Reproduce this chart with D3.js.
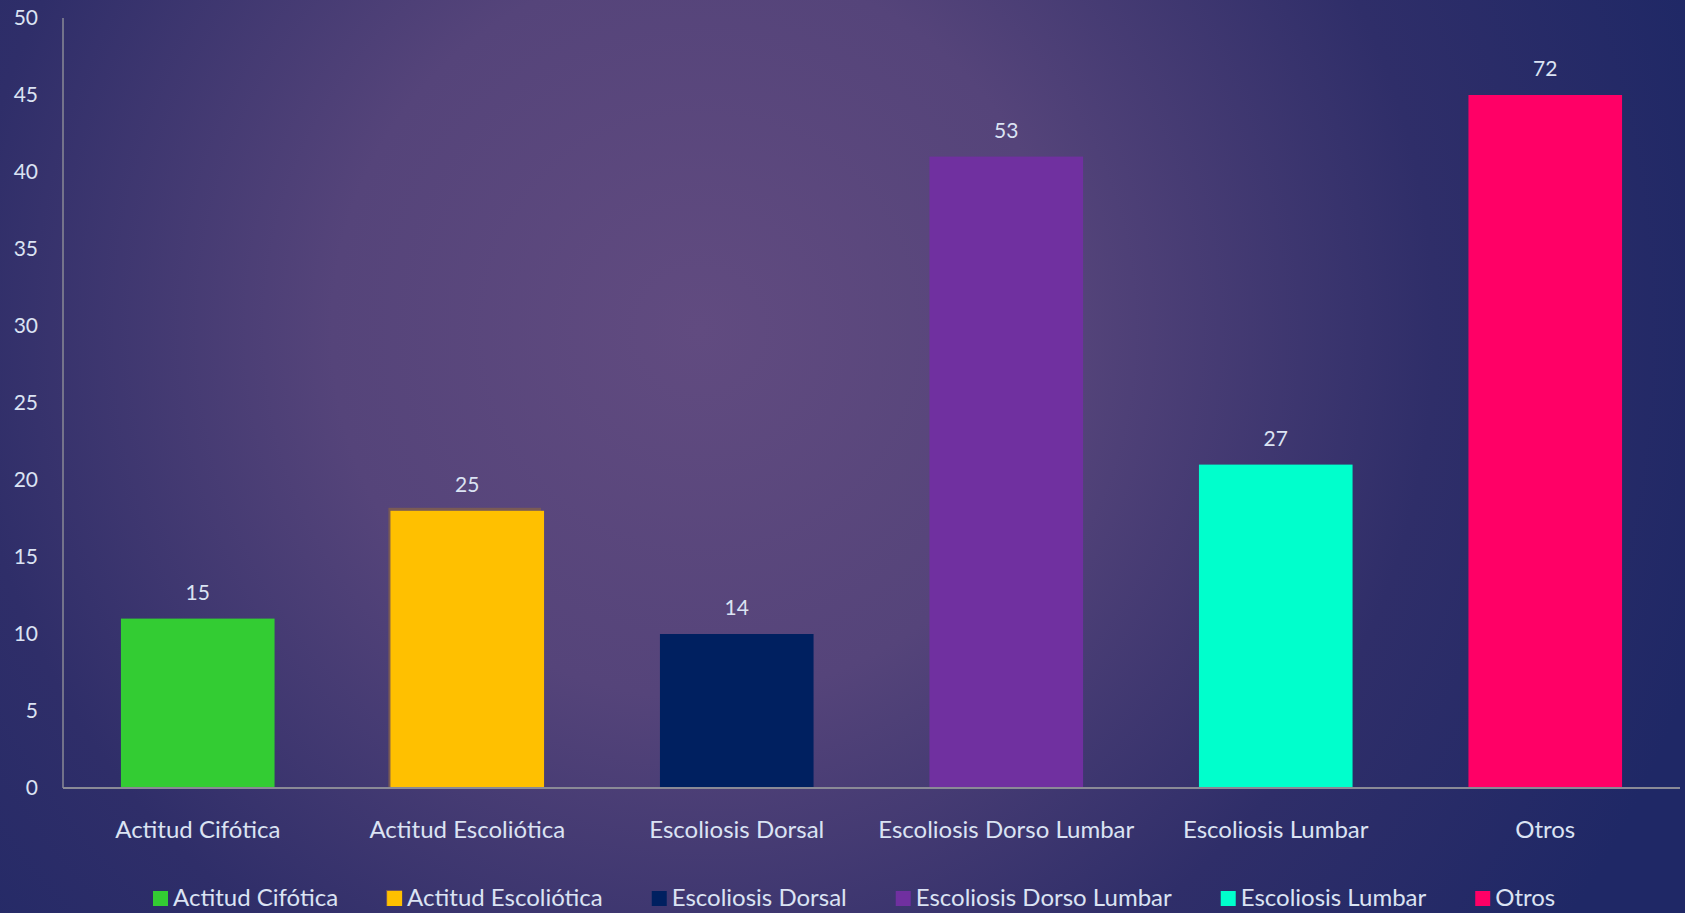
<!DOCTYPE html>
<html><head><meta charset="utf-8">
<script src="https://cdn.jsdelivr.net/npm/d3@7"></script>
<style>html,body{margin:0;padding:0;overflow:hidden;background:#2a2d68}</style>
</head><body>
<script>
const categories = ["Actitud Cifótica","Actitud Escoliótica","Escoliosis Dorsal","Escoliosis Dorso Lumbar","Escoliosis Lumbar","Otros"];
const barValues = [11, 18, 10, 41, 21, 45];
const labelValues = [15, 25, 14, 53, 27, 72];
const colors = ["#33cc33","#ffc000","#002060","#7030a0","#00ffcc","#ff0066"];
const yTicks = [0,5,10,15,20,25,30,35,40,45,50];

const W = 1685, H = 913;
const FONT = "Lato, 'Open Sans', sans-serif";
const TXT = "#dbe3f3";
const m = {left: 63, right: 5, top: 18, bottom: 125};

const svg = d3.select("body").append("svg").attr("width", W).attr("height", H);
const defs = svg.append("defs");
const rg = defs.append("radialGradient").attr("id","bg")
  .attr("gradientUnits","userSpaceOnUse").attr("cx", 700).attr("cy", 330).attr("r", 1050);
rg.append("stop").attr("offset","0%").attr("stop-color","#614b80");
rg.append("stop").attr("offset","35%").attr("stop-color","#55447a");
rg.append("stop").attr("offset","70%").attr("stop-color","#2f2e69");
rg.append("stop").attr("offset","100%").attr("stop-color","#1f2866");
svg.append("rect").attr("width", W).attr("height", H).attr("fill","url(#bg)");

const x = d3.scaleBand().domain(categories).range([m.left, W - m.right]).paddingInner(0.43).paddingOuter(0.215);
const y = d3.scaleLinear().domain([0, 50]).range([H - m.bottom, m.top]);

// y tick labels
const ya = svg.append("g").attr("transform", `translate(${m.left},0)`)
  .call(d3.axisLeft(y).tickValues(yTicks).tickSize(0).tickPadding(25));
ya.select(".domain").remove();
ya.selectAll("text").attr("font-family", FONT).attr("font-size", 21).attr("fill", TXT);

// bars
const g = svg.append("g");
// brownish outline on the yellow bar (as in reference)
g.append("rect")
  .attr("x", x(categories[1]) - 2).attr("y", y(barValues[1]) - 3)
  .attr("width", x.bandwidth() - 1).attr("height", y(0) - y(barValues[1]) + 3)
  .attr("fill", "#7a5a55");
g.selectAll(".bar").data(categories).join("rect").attr("class","bar")
  .attr("x", d => x(d)).attr("y", (d,i) => y(barValues[i]))
  .attr("width", x.bandwidth()).attr("height", (d,i) => y(0) - y(barValues[i]))
  .attr("fill", (d,i) => colors[i]);

// data labels
g.selectAll(".lbl").data(categories).join("text").attr("class","lbl")
  .attr("x", d => x(d) + x.bandwidth()/2).attr("y", (d,i) => y(barValues[i]) - 19)
  .attr("text-anchor","middle").attr("font-family", FONT).attr("font-size", 21).attr("fill", TXT)
  .text((d,i) => labelValues[i]);

// axis lines
svg.append("line").attr("x1", m.left).attr("x2", m.left).attr("y1", m.top).attr("y2", y(0))
  .attr("stroke","#8a8a96").attr("stroke-width",1.5);
svg.append("line").attr("x1", m.left).attr("x2", W - m.right).attr("y1", y(0)).attr("y2", y(0))
  .attr("stroke","#8a8a96").attr("stroke-width",2);

// category labels
const xa = svg.append("g").attr("transform", `translate(0,${y(0)})`)
  .call(d3.axisBottom(x).tickSize(0).tickPadding(33));
xa.select(".domain").remove();
xa.selectAll("text").attr("font-family", FONT).attr("font-size", 24).attr("fill", TXT);

// legend
const leg = svg.append("g");
let lx = 153;
const ly = 898;
categories.forEach((c, i) => {
  const it = leg.append("g").attr("transform", `translate(${lx},${ly})`);
  if (i === 1) {
    it.append("rect").attr("x", -1).attr("y", -8).attr("width", 16).attr("height", 16).attr("fill", "#7a5a55");
  }
  it.append("rect").attr("x", 0).attr("y", -7).attr("width", 15).attr("height", 15).attr("fill", colors[i]);
  const t = it.append("text").attr("x", 20).attr("y", 0).attr("dy", "0.35em")
    .attr("font-family", FONT).attr("font-size", 24).attr("fill", TXT).text(c);
  lx += 20 + t.node().getComputedTextLength() + 49;
});
</script>
</body></html>
